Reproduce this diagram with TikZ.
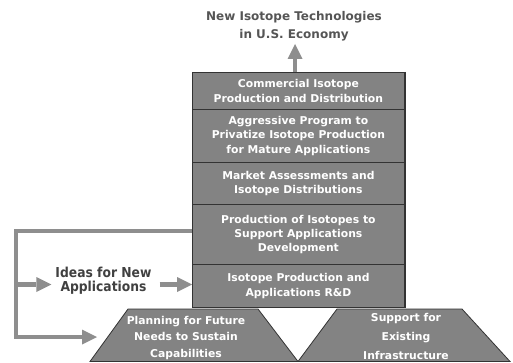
\documentclass[tikz,border=0pt]{standalone}
\usepackage{fontspec}
\setmainfont{DejaVu Sans}
\newfontfamily\ideasfont{DejaVu Sans}[FakeStretch=0.9]
\usetikzlibrary{arrows.meta}
\definecolor{cellfill}{HTML}{838383}
\definecolor{cellline}{HTML}{333333}
\definecolor{arrowgray}{HTML}{8E8E8E}
\definecolor{titlegray}{HTML}{555555}
\definecolor{ideasgray}{HTML}{404040}
\begin{document}
\begin{tikzpicture}[x=1pt,y=-1pt,
  cell/.style={rectangle, draw=cellline, fill=cellfill, line width=0.8pt,
    minimum width=212pt, inner sep=0pt, anchor=north west, align=center,
    text=white, font=\bfseries\fontsize{10.8}{14.3}\selectfont},
  trap/.style={draw=cellline, fill=cellfill, line width=0.8pt, line join=miter},
  traptext/.style={align=center, text=white, inner sep=0pt},
  titletext/.style={align=center, text=titlegray, inner sep=0pt,
    font=\bfseries\fontsize{12}{18}\selectfont},
  ideastext/.style={align=center, text=ideasgray, inner sep=0pt,
    font=\ideasfont\bfseries\fontsize{13.7}{14.2}\selectfont},
  fat/.style={draw=arrowgray, line width=4.5pt, line join=miter},
  fatarrow/.style={fat, -{Triangle[length=15pt,width=15pt,line width=0pt]}}]
\useasboundingbox (0,0) rectangle (513,363);
% title
\node[titletext] (title) at (294,26) {New Isotope Technologies\\in U.S. Economy};
% stack
\node[cell, minimum height=37pt] (c1) at (192,72) {Commercial Isotope\\Production and Distribution};
\node[cell, minimum height=53pt] (c2) at (192,109) {Aggressive Program to\\Privatize Isotope Production\\for Mature Applications};
\node[cell, minimum height=42pt] (c3) at (192,162) {Market Assessments and\\Isotope Distributions};
\node[cell, minimum height=60pt] (c4) at (192,204) {Production of Isotopes to\\Support Applications\\Development};
\node[cell, minimum height=43pt] (c5) at (192,264) {Isotope Production and\\Applications R\&D};
\draw[cellline, line width=1.6pt] (c1.north east) -- (c5.south east);
% trapezoids
\draw[trap] (128,309) -- (258,309) -- (298,361.5) -- (90,361.5) -- cycle;
\node[traptext, font=\bfseries\fontsize{10.8}{16.3}\selectfont] (plan) at (186,338) {Planning for Future\\Needs to Sustain\\Capabilities};
\draw[trap] (337,309) -- (462,309) -- (510,361.5) -- (298,361.5) -- cycle;
\node[traptext, font=\bfseries\fontsize{10.8}{19}\selectfont] (support) at (406,336) {Support for\\Existing\\Infrastructure};
% ideas
\node[ideastext] (ideas) at (103.5,281) {Ideas for New\\Applications};
% arrows
\coordinate (topTip) at (295,44);
\draw[fatarrow] (topTip |- c1.north) -- (topTip);
\coordinate (LT) at (16,231);
\coordinate (LB) at (16,337);
\coordinate (planIn) at (97,337);
\coordinate (ideasY) at (0,284.5);
\draw[fatarrow] (LT -| c4.west) -- (LT) -- (LB) -- (planIn);
\draw[fatarrow, shorten >=4pt] (LT |- ideasY) -- (ideas.west |- ideasY);
\draw[fatarrow, shorten <=8pt] (ideas.east |- ideasY) -- (c5.west |- ideasY);
\end{tikzpicture}
\end{document}
